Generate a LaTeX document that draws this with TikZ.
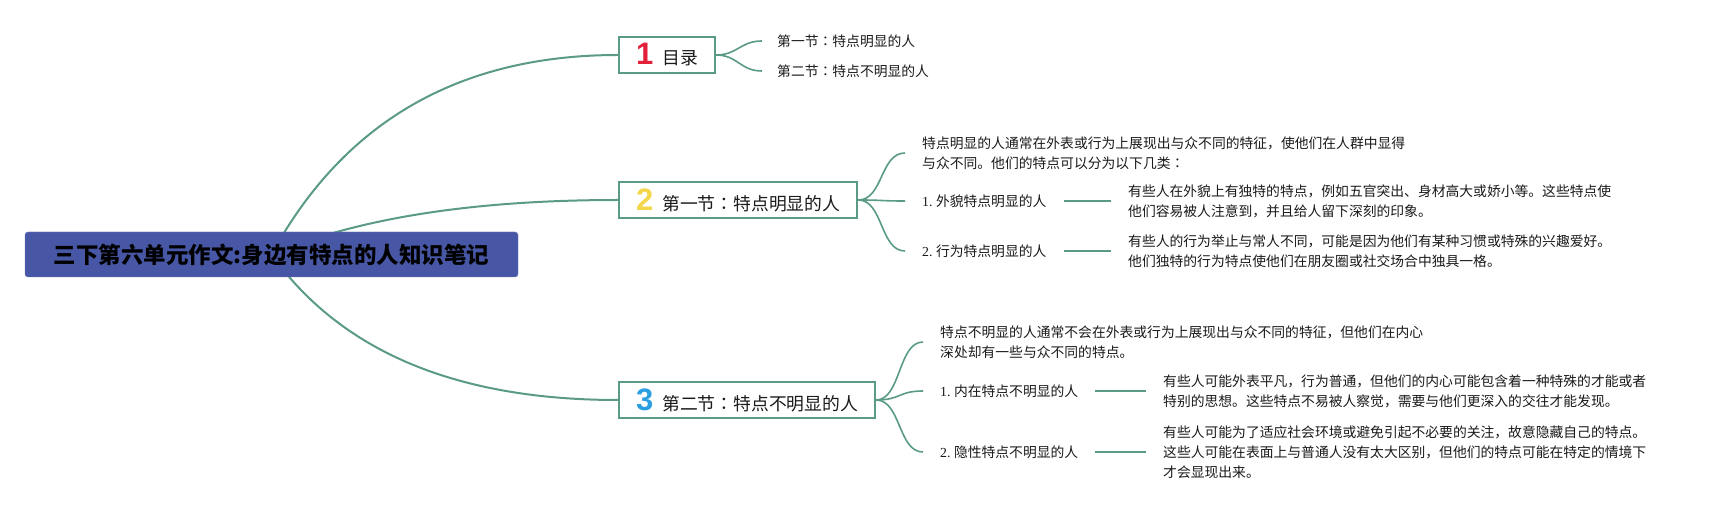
\documentclass[tikz,border=0pt]{standalone}
\usepackage{fontspec}
\setmainfont{Liberation Serif}
\newfontfamily\cjk{Noto Sans CJK SC}
\newfontfamily\cjktc{Noto Sans CJK TC}
\newfontfamily\digitfont{Liberation Sans}
\usetikzlibrary{backgrounds}
\definecolor{lnk}{HTML}{5A9A86}
\definecolor{rootblue}{HTML}{4757A5}
\definecolor{dred}{HTML}{E3213B}
\definecolor{dyel}{HTML}{F4D64A}
\definecolor{dblue}{HTML}{2B9FE0}
\definecolor{txt}{HTML}{1A1A1A}
\newcommand\mybadge[2]{{\digitfont\bfseries\fontsize{31}{31}\selectfont\textcolor{#1}{#2}}}
\newcommand\mycolon{{\cjktc ：}}
\begin{document}
\begin{tikzpicture}[x=1pt,y=-1pt,
 rootbox/.style={draw=rootblue!80!white, fill=rootblue, rounded corners=3pt, minimum width=493pt, minimum height=45pt, inner sep=0pt, font=\cjk\bfseries\fontsize{22.5}{24}\selectfont, text=black},
 secbox/.style={draw=lnk, line width=2pt, fill=white, minimum height=36pt, inner xsep=17pt, inner ysep=0pt, anchor=west, font=\cjk\fontsize{17.8}{20}\selectfont, text=txt},
 leaf/.style={anchor=west, inner sep=0pt, align=left, font=\cjk\fontsize{13.8}{20}\selectfont, text=txt},
 mainlink/.style={draw=lnk, line width=2pt},
 sublink/.style={draw=lnk, line width=1.6pt},
]
\useasboundingbox (0,0) rectangle (1719,510);
% root and sections
\node[rootbox] (root) at (271.5,254.5) {三下第六单元作文:身边有特点的人知识笔记};
\node[secbox] (s1) at (618,55) {\mybadge{dred}{1}\hspace{9pt}目录};
\node[secbox] (s2) at (618,200) {\mybadge{dyel}{2}\hspace{9pt}第一节\mycolon 特点明显的人};
\node[secbox] (s3) at (618,400) {\mybadge{dblue}{3}\hspace{9pt}第二节\mycolon 特点不明显的人};
% section 1 leaves
\node[leaf] (a1) at (777,41) {第一节\mycolon 特点明显的人};
\node[leaf] (a2) at (777,71) {第二节\mycolon 特点不明显的人};
% section 2 leaves
\node[leaf] (p0) at (922,153) {特点明显的人通常在外表或行为上展现出与众不同的特征，使他们在人群中显得\\与众不同。他们的特点可以分为以下几类\mycolon};
\node[leaf] (p1) at (922,201) {{\rmfamily 1.\ }外貌特点明显的人};
\node[leaf] (q1) at (1128,201) {有些人在外貌上有独特的特点，例如五官突出、身材高大或娇小等。这些特点使\\他们容易被人注意到，并且给人留下深刻的印象。};
\node[leaf] (p2) at (922,251) {{\rmfamily 2.\ }行为特点明显的人};
\node[leaf] (q2) at (1128,251) {有些人的行为举止与常人不同，可能是因为他们有某种习惯或特殊的兴趣爱好。\\他们独特的行为特点使他们在朋友圈或社交场合中独具一格。};
% section 3 leaves
\node[leaf] (r0) at (940,342) {特点不明显的人通常不会在外表或行为上展现出与众不同的特征，但他们在内心\\深处却有一些与众不同的特点。};
\node[leaf] (r1) at (940,391) {{\rmfamily 1.\ }内在特点不明显的人};
\node[leaf] (u1) at (1163,391) {有些人可能外表平凡，行为普通，但他们的内心可能包含着一种特殊的才能或者\\特别的思想。这些特点不易被人察觉，需要与他们更深入的交往才能发现。};
\node[leaf] (r2) at (940,452) {{\rmfamily 2.\ }隐性特点不明显的人};
\node[leaf] (u2) at (1163,452) {有些人可能为了适应社会环境或避免引起不必要的关注，故意隐藏自己的特点。\\这些人可能在表面上与普通人没有太大区别，但他们的特点可能在特定的情境下\\才会显现出来。};
\begin{scope}[on background layer]
\fill[white] (0,0) rectangle (1719,510);
\draw[mainlink] (root.center) .. controls (343.7,121.7) and (459.3,55) .. (s1.west);
\draw[mainlink] (root.center) .. controls (357,218.3) and (472.7,200) .. (s2.west);
\draw[mainlink] (root.center) .. controls (341,351.7) and (456.7,400) .. (s3.west);
% section 1
\draw[sublink] (s1.east) .. controls +(22,0) and +(-22,0) .. ([xshift=-15pt]a1.west);
\draw[sublink] (s1.east) .. controls +(22,0) and +(-22,0) .. ([xshift=-15pt]a2.west);
% section 2
\draw[sublink] (s2.east) .. controls +(25,0) and +(-25,0) .. ([xshift=-17pt]p0.west);
\draw[sublink] (s2.east) .. controls +(25,0) and +(-25,0) .. ([xshift=-17pt]p1.west);
\draw[sublink] (s2.east) .. controls +(25,0) and +(-25,0) .. ([xshift=-17pt]p2.west);
\draw[sublink] ([xshift=17pt]p1.east) -- ([xshift=-17pt]q1.west);
\draw[sublink] ([xshift=17pt]p2.east) -- ([xshift=-17pt]q2.west);
% section 3
\draw[sublink] (s3.east) .. controls +(25,0) and +(-25,0) .. ([xshift=-17pt]r0.west);
\draw[sublink] (s3.east) .. controls +(25,0) and +(-25,0) .. ([xshift=-17pt]r1.west);
\draw[sublink] (s3.east) .. controls +(25,0) and +(-25,0) .. ([xshift=-17pt]r2.west);
\draw[sublink] ([xshift=17pt]r1.east) -- ([xshift=-17pt]u1.west);
\draw[sublink] ([xshift=17pt]r2.east) -- ([xshift=-17pt]u2.west);
\end{scope}
\end{tikzpicture}
\end{document}
